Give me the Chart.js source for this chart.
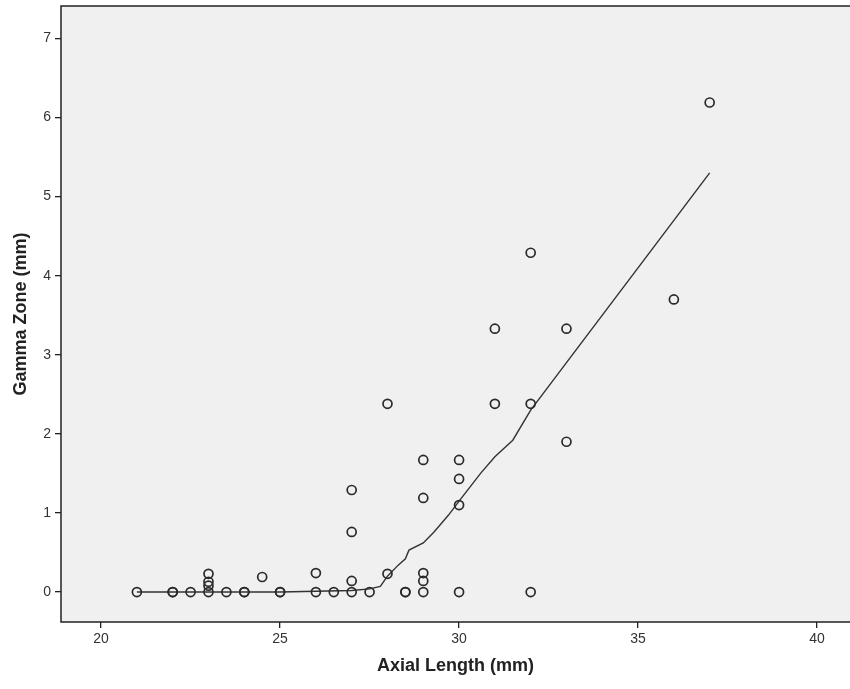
<!DOCTYPE html>
<html><head><meta charset="utf-8">
<script src="https://cdn.jsdelivr.net/npm/chart.js@4"></script>
<style>html,body{margin:0;padding:0;background:#fff}#wrap{width:850px;height:689px}</style>
</head><body><div id="wrap"><canvas id="c" width="850" height="689"></canvas></div>
<script>
// Observed points: Axial Length (mm) vs Gamma Zone (mm)
const axialLength = [21,22,22,22.5,23,23,23,23,23.5,24,24,24.5,25,25,26,26,26.5,27,27,27,27,27.5,28,28,28.5,28.5,29,29,29,29,29,30,30,30,30,31,31,32,32,32,33,33,36,37];
const gammaZone   = [0,0,0,0,0,0.08,0.13,0.23,0,0,0,0.19,0,0,0,0.24,0,0,0.14,0.76,1.29,0,0.23,2.38,0,0,0,0.14,0.24,1.19,1.67,0,1.10,1.43,1.67,2.38,3.33,0,2.38,4.29,1.90,3.33,3.70,6.19];
// Loess fit line
const fitX = [21,22,23,24,25,26,27,27.5,27.8,28,28.3,28.5,28.6,29,29.3,29.7,30,30.6,31,31.5,32,33,36,37];
const fitY = [0,0,0,0,0,0.01,0.02,0.04,0.07,0.2,0.34,0.42,0.53,0.62,0.76,0.97,1.15,1.50,1.71,1.92,2.30,2.90,4.70,5.30];
const xTicks = [20,25,30,35,40];
const yTicks = [0,1,2,3,4,5,6,7];

const frame = {
  id:'frame',
  beforeDatasetsDraw(chart){
    const {ctx, chartArea:a} = chart;
    ctx.save(); ctx.fillStyle='#f0f0f0';
    ctx.fillRect(a.left,a.top,a.right-a.left,a.bottom-a.top); ctx.restore();
  },
  afterDraw(chart){
    const {ctx, chartArea:a} = chart;
    ctx.save(); ctx.strokeStyle='#222'; ctx.lineWidth=1.5;
    ctx.strokeRect(a.left,a.top,a.right-a.left+2,a.bottom-a.top); ctx.restore();
  }
};

const font = "'Liberation Sans Narrow','Arial Narrow','Liberation Sans',Arial,sans-serif";

new Chart(document.getElementById('c'), {
  type:'scatter',
  data:{datasets:[
    {label:'fit', type:'line', data:fitX.map((x,i)=>({x, y:fitY[i]})), borderColor:'#333', borderWidth:1.4, pointRadius:0, fill:false, tension:0, order:2},
    {label:'obs', data:axialLength.map((x,i)=>({x, y:gammaZone[i]})), pointRadius:4.5, pointBorderWidth:1.7, pointBorderColor:'#2a2a2a', pointBackgroundColor:'rgba(0,0,0,0)', order:1}
  ]},
  plugins:[frame],
  options:{
    responsive:false, animation:false, devicePixelRatio:1,
    layout:{autoPadding:false, padding:{top:6,right:0,left:0,bottom:0}},
    plugins:{legend:{display:false}, tooltip:{enabled:false}},
    scales:{
      x:{type:'linear', min:18.88, max:40.92,
        afterBuildTicks(s){ s.ticks = xTicks.map(v=>({value:v})); },
        afterFit(s){ s.height = 67; s.paddingLeft = 0; s.paddingRight = 0; },
        grid:{drawOnChartArea:false, drawTicks:true, tickLength:6, color:'#222', lineWidth:1.3},
        border:{display:false},
        ticks:{color:'#333', font:{family:font, size:14}, padding:3, maxRotation:0},
        title:{display:true, text:'Axial Length (mm)', color:'#222', font:{family:font, size:18, weight:'bold'}, padding:{top:4,bottom:12}}
      },
      y:{type:'linear', min:-0.379, max:7.41,
        afterBuildTicks(s){ s.ticks = yTicks.map(v=>({value:v})); },
        afterFit(s){ s.width = 61; s.paddingTop = 0; s.paddingBottom = 0; },
        grid:{drawOnChartArea:false, drawTicks:true, tickLength:6, color:'#222', lineWidth:1.3},
        border:{display:false},
        ticks:{color:'#333', font:{family:font, size:14}, padding:4},
        title:{display:true, text:'Gamma Zone (mm)', color:'#222', font:{family:font, size:18, weight:'bold'}, padding:{top:10,bottom:4}}
      }
    }
  }
});
</script></body></html>
